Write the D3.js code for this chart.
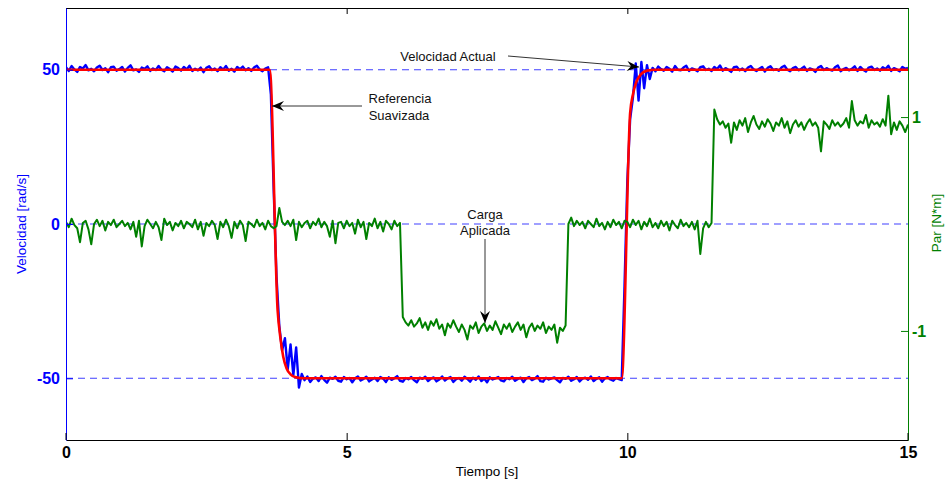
<!DOCTYPE html>
<html><head><meta charset="utf-8">
<script src="https://cdn.jsdelivr.net/npm/d3@7"></script>
<style>
body{margin:0;background:#fff}
svg{display:block;font-family:"Liberation Sans",Arial,Helvetica,sans-serif}
</style>
</head><body>
<svg id="chart" width="945" height="483"></svg>
<script>
// ---------- data ----------
const timeDomain = [0, 15];
const xTicks = [0, 5, 10, 15];
const velTicks = [-50, 0, 50];
const parTicks = [-1, 1];

// Velocidad actual [rad/s], sampled every 0.05 s from 0 to 15 s
const velocity = [
  50.8, 49.6, 51.2, 50.1, 49.3, 50.9, 50.4, 51.5, 49.8, 50.3,
  49.5, 50.7, 51.3, 49.9, 50.5, 49.2, 50.8, 51.0, 49.7, 50.2,
  50.9, 49.4, 50.6, 51.4, 49.8, 50.1, 49.3, 50.7, 50.3, 51.1,
  49.6, 50.4, 49.9, 51.2, 50.0, 49.5, 50.8, 50.2, 49.4, 51.0,
  50.5, 49.7, 50.9, 50.1, 51.3, 49.6, 50.3, 49.8, 50.7, 49.2,
  50.6, 51.1, 49.9, 50.4, 49.5, 50.8, 50.0, 51.2, 49.7, 50.3,
  49.4, 50.9, 50.2, 51.0, 49.8, 50.5, 49.6, 50.7, 51.3, 50.1,
  49.5, 50.4, 50.8,
  42, 11, -17, -33, -41, -37, -47, -39, -49, -40, -53, -48.6,
  -50.6, -49.4, -51.2, -50.1, -49.7, -50.9, -49.3, -50.5, -51.4, -49.8,
  -50.2, -49.5, -50.8, -51.1, -49.6, -50.3, -49.9, -51.3, -50.0, -49.4,
  -50.7, -50.2, -49.5, -51.0, -50.4, -49.8, -50.9, -49.6, -50.1, -51.2,
  -49.7, -50.5, -50.0, -49.3, -50.8, -51.1, -49.9, -50.3, -49.6, -50.6,
  -51.3, -49.8, -50.2, -49.5, -50.9, -50.1, -49.7, -51.0, -50.4, -49.4,
  -50.7, -50.0, -49.6, -51.2, -50.3, -49.9, -50.8, -49.5, -50.2, -51.1,
  -49.8, -50.5, -49.4, -50.9, -50.1, -51.3, -49.7, -50.4, -50.0, -49.6,
  -50.7, -51.0, -49.9, -50.3, -49.5, -50.8, -50.2, -49.8, -51.2, -50.0,
  -49.6, -50.6, -50.1, -49.3, -50.9, -51.1, -49.8, -50.4, -50.0, -49.7,
  -50.6, -51.3, -49.9, -50.2, -49.5, -50.8, -50.3, -49.6, -51.0, -50.1,
  -49.8, -50.5, -49.4, -50.9, -50.2, -49.7, -51.1, -50.0, -49.6, -50.4,
  -50.8, -49.9, -50.3, -50.6,
  -20, 14, 34, 41, 52, 40, 52.5, 44, 51.5, 47,
  50.6, 49.5, 51.0, 50.2, 49.7, 50.9, 50.3, 49.4, 51.2, 50.0,
  49.8, 50.7, 51.3, 49.6, 50.4, 50.1, 49.5, 50.8, 51.1, 49.9,
  50.3, 49.6, 50.9, 50.2, 51.4, 49.7, 50.5, 50.0, 49.3, 50.8,
  51.0, 49.8, 50.4, 49.5, 50.7, 51.2, 50.1, 49.6, 50.3, 50.9,
  49.4, 50.6, 51.1, 49.9, 50.2, 49.7, 50.8, 51.3, 50.0, 49.5,
  50.5, 50.9, 49.8, 50.3, 51.0, 49.6, 50.4, 50.1, 49.3, 50.7,
  51.2, 49.9, 50.5, 50.0, 49.7, 50.8, 51.4, 49.5, 50.2, 50.6,
  49.8, 50.3, 51.1, 49.6, 50.9, 50.0, 49.4, 50.7, 51.0, 49.9,
  50.4, 49.7, 50.8, 50.2, 51.3, 49.6, 50.5, 50.1, 49.5, 50.9,
  50.3, 50.6
];

// Referencia suavizada [rad/s]
const refTime  = [0, 3.63, 3.77, 3.82, 3.87, 3.93, 4.0, 4.1, 4.25, 9.9, 10.05, 10.1, 10.16, 10.24, 10.35, 10.5, 15];
const refValue = [50, 50, -28, -37, -43, -46.8, -48.7, -49.7, -50, -50, 36, 42, 46, 48.5, 49.7, 50, 50];

// Par (carga aplicada) [N*m], sampled every 0.05 s from 0 to 15 s
const torque = [
  0.02, -0.03, 0.05, -0.01, -0.04, -0.17, 0.01, 0.03, -0.05, -0.19, 0.00, 0.04, -0.02, 0.03, -0.06, 0.02, -0.01, 0.04, -0.03, 0.00,
  0.03, -0.02, 0.01, -0.05, 0.02, -0.12, 0.03, -0.21, -0.02, 0.04, 0.00, -0.04, 0.02, -0.03, -0.15, 0.05, -0.01, 0.02, -0.06, 0.01,
  -0.02, 0.03, -0.04, 0.02, 0.00, -0.03, 0.04, -0.05, 0.02, -0.11, 0.01, -0.02, 0.03, -0.01, -0.14, 0.02, -0.03, 0.04, -0.02, -0.13,
  0.02, -0.04, 0.03, -0.01, -0.16, 0.02, 0.00, -0.03, 0.04, -0.02, 0.01, -0.05, 0.03, -0.02, -0.04, -0.02, 0.15, 0.02, -0.01, 0.03,
  -0.02, 0.04, -0.15, 0.02, -0.03, 0.01, 0.03, -0.04, 0.02, -0.01, 0.05, -0.03, 0.02, -0.02, -0.12, 0.03, -0.18, 0.01, 0.02, -0.04,
  0.03, -0.02, 0.01, -0.09, 0.04, -0.03, 0.02, -0.14, 0.01, -0.02, 0.05, -0.04, 0.02, -0.07, 0.03, 0.00, -0.05, 0.03, -0.02, 0.01,
  -0.87, -0.92, -0.95, -0.90, -0.96, -0.93, -0.88, -0.97, -0.92, -0.99, -0.91, -0.95, -0.89, -0.98, -0.94, -1.04, -0.93, -0.97, -0.90, -0.96,
  -1.01, -0.94, -0.99, -1.08, -0.95, -0.98, -0.92, -1.02, -0.96, -0.93, -1.00, -0.95, -0.99, -0.91, -0.97, -1.03, -0.94, -0.98, -0.93, -1.01,
  -0.96, -0.92, -0.99, -0.94, -1.06, -0.97, -0.93, -1.00, -0.95, -0.98, -0.92, -1.02, -0.96, -0.99, -0.94, -1.11, -0.97, -1.00, -0.95,
  0.00, 0.06, -0.02, 0.03, -0.01, 0.02, -0.04, 0.03, 0.00, -0.03, 0.05, -0.02, 0.01, -0.05, 0.02, -0.03, 0.04, -0.01, 0.02, -0.04, 0.03,
  0.02, -0.03, 0.04, -0.01, 0.03, -0.05, 0.02, -0.02, 0.05, -0.03, 0.01, -0.04, 0.03, -0.02, 0.02, -0.06, 0.03, -0.01, -0.04, 0.04,
  -0.02, 0.01, -0.03, 0.02, -0.05, 0.03, -0.28, -0.04, 0.02, -0.03, 0.01,
  1.07, 0.98, 0.93, 0.96, 0.90, 0.94, 0.76, 0.95, 0.88, 0.97,
  0.92, 0.99, 0.86, 0.95, 1.01, 0.93, 0.89, 0.96, 0.91, 0.98,
  0.94, 0.87, 0.95, 0.92, 0.99, 0.90, 0.96, 0.85, 0.93, 0.97,
  0.91, 0.95, 0.88, 0.94, 0.98, 0.92, 0.95, 0.90, 0.68, 0.96,
  0.93, 0.89, 0.97, 0.92, 0.95, 0.91, 0.94, 0.99, 0.90, 1.15,
  0.97, 0.92, 0.96, 0.94, 1.02, 0.90, 0.97, 0.93, 0.95, 0.91,
  0.98, 0.92, 1.20, 0.84, 0.95, 0.88, 0.96, 0.92, 0.86, 0.93
];

// ---------- layout ----------
const L = 66, R = 908, T = 8, B = 440;
const svg = d3.select("#chart");
const x = d3.scaleLinear().domain(timeDomain).range([L, R]);
const yL = d3.scaleLinear().domain([-70, 70]).range([B, T]);
const yR = d3.scaleLinear().domain([-2.02, 2.02]).range([B, T]);
const fmt = d => String(d);   // plain hyphen-minus, as in the original

svg.append("defs").append("clipPath").attr("id", "clip")
  .append("rect").attr("x", L).attr("y", T).attr("width", R - L).attr("height", B - T);

// grid (dashed) at velocity ticks
svg.append("g").selectAll("line").data(velTicks).join("line")
  .attr("x1", L).attr("x2", R)
  .attr("y1", d => yL(d)).attr("y2", d => yL(d))
  .attr("stroke", "#4040ff").attr("stroke-width", 1.1)
  .attr("stroke-dasharray", "7,5");

const plot = svg.append("g").attr("clip-path", "url(#clip)");
const stepV = (timeDomain[1] - timeDomain[0]) / (velocity.length - 1);
const stepT = (timeDomain[1] - timeDomain[0]) / (torque.length - 1);

plot.append("path").datum(velocity)
  .attr("fill", "none").attr("stroke", "#0000ff").attr("stroke-width", 2.4)
  .attr("stroke-linejoin", "round")
  .attr("d", d3.line().x((d, i) => x(i * stepV)).y(d => yL(d)));

plot.append("path").datum(refTime.map((t, i) => [t, refValue[i]]))
  .attr("fill", "none").attr("stroke", "#ff0000").attr("stroke-width", 2.6)
  .attr("d", d3.line().curve(d3.curveMonotoneX).x(d => x(d[0])).y(d => yL(d[1])));

plot.append("path").datum(torque)
  .attr("fill", "none").attr("stroke", "#008000").attr("stroke-width", 2)
  .attr("stroke-linejoin", "round")
  .attr("d", d3.line().x((d, i) => x(i * stepT)).y(d => yR(d)));

// ---------- axes ----------
const tickFont = g => g.selectAll("text").attr("font-size", 16).attr("font-weight", "bold")
  .attr("font-family", "'Liberation Sans', Arial, sans-serif");

// bottom
const gx = svg.append("g").attr("transform", `translate(0,${B})`)
  .call(d3.axisBottom(x).tickValues(xTicks).tickFormat(fmt).tickSize(-7).tickSizeOuter(0).tickPadding(7));
gx.select(".domain").attr("stroke", "#000");
gx.selectAll(".tick line").attr("stroke", "#000");
gx.call(tickFont); gx.selectAll("text").attr("fill", "#000");

// top
const gt = svg.append("g").attr("transform", `translate(0,${T})`)
  .call(d3.axisTop(x).tickValues(xTicks).tickFormat("").tickSize(-6).tickSizeOuter(0));
gt.select(".domain").attr("stroke", "#000");

// left
const gl = svg.append("g").attr("transform", `translate(${L},0)`)
  .call(d3.axisLeft(yL).tickValues(velTicks).tickFormat(fmt).tickSize(-7).tickSizeOuter(0).tickPadding(6));
gl.select(".domain").attr("stroke", "#0000ff");
gl.selectAll(".tick line").attr("stroke", "#0000ff");
gl.call(tickFont); gl.selectAll("text").attr("fill", "#0000ff");

// right
const gr = svg.append("g").attr("transform", `translate(${R},0)`)
  .call(d3.axisRight(yR).tickValues(parTicks).tickFormat(fmt).tickSize(-7).tickSizeOuter(0).tickPadding(4));
gr.select(".domain").attr("stroke", "#008000");
gr.selectAll(".tick line").attr("stroke", "#008000");
gr.call(tickFont); gr.selectAll("text").attr("fill", "#008000");

// corner tick marks of the x axis over the y axes
svg.append("g").selectAll("line").data([timeDomain[0], timeDomain[1]]).join("line")
  .attr("x1", d => x(d)).attr("x2", d => x(d))
  .attr("y1", B).attr("y2", B - 7).attr("stroke", "#000");

// axis labels
svg.append("text").attr("x", 487).attr("y", 476).attr("text-anchor", "middle")
  .attr("font-size", 13.5).attr("fill", "#000").text("Tiempo [s]");
svg.append("text").attr("transform", "translate(26,224) rotate(-90)").attr("text-anchor", "middle")
  .attr("font-size", 13.5).attr("fill", "#0000ff").text("Velocidad [rad/s]");
svg.append("text").attr("transform", "translate(941,223) rotate(-90)").attr("text-anchor", "middle")
  .attr("font-size", 13.5).attr("fill", "#008000").text("Par [N*m]");

// ---------- annotations ----------
function arrow(x1, y1, x2, y2) {
  const g = svg.append("g");
  g.append("line").attr("x1", x1).attr("y1", y1).attr("x2", x2).attr("y2", y2)
    .attr("stroke", "#333").attr("stroke-width", 1);
  const ang = Math.atan2(y2 - y1, x2 - x1) * 180 / Math.PI;
  g.append("path").attr("d", "M0,0 L-12,-5 L-8,0 L-12,5 Z")
    .attr("transform", `translate(${x2},${y2}) rotate(${ang})`).attr("fill", "#000");
}
const ann = (tx, ty, s) => svg.append("text").attr("x", tx).attr("y", ty)
  .attr("text-anchor", "middle").attr("font-size", 13).attr("fill", "#111").text(s);

ann(448, 61, "Velocidad Actual");
arrow(508, 56, 639, 67);
ann(400, 103, "Referencia");
ann(399, 120, "Suavizada");
arrow(362, 106, 272, 106);
ann(485, 219, "Carga");
ann(485, 235, "Aplicada");
arrow(485, 239, 485, 323);
</script>
</body></html>
